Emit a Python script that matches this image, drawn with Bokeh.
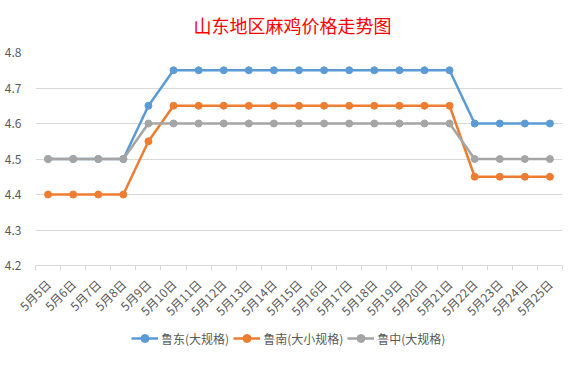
import math
from bokeh.plotting import figure
from bokeh.layouts import column
from bokeh.models import FixedTicker, Legend, LegendItem, Range1d, Label
from bokeh.embed import file_html
from bokeh.resources import INLINE

title_text = "山东地区麻鸡价格走势图"
dates = ["5月5日", "5月6日", "5月7日", "5月8日", "5月9日", "5月10日", "5月11日",
         "5月12日", "5月13日", "5月14日", "5月15日", "5月16日", "5月17日", "5月18日",
         "5月19日", "5月20日", "5月21日", "5月22日", "5月23日", "5月24日", "5月25日"]
ludong = [4.5, 4.5, 4.5, 4.5, 4.65, 4.75, 4.75, 4.75, 4.75, 4.75, 4.75, 4.75,
          4.75, 4.75, 4.75, 4.75, 4.75, 4.6, 4.6, 4.6, 4.6]
lunan = [4.4, 4.4, 4.4, 4.4, 4.55, 4.65, 4.65, 4.65, 4.65, 4.65, 4.65, 4.65,
         4.65, 4.65, 4.65, 4.65, 4.65, 4.45, 4.45, 4.45, 4.45]
luzhong = [4.5, 4.5, 4.5, 4.5, 4.6, 4.6, 4.6, 4.6, 4.6, 4.6, 4.6, 4.6,
           4.6, 4.6, 4.6, 4.6, 4.6, 4.5, 4.5, 4.5, 4.5]
series_names = ["鲁东(大规格)", "鲁南(大小规格)", "鲁中(大规格)"]
y_ticks = [4.2, 4.3, 4.4, 4.5, 4.6, 4.7, 4.8]

FONT = "Noto Sans CJK SC"
x = list(range(len(dates)))
colors = ["#5B9BD5", "#ED7D31", "#A5A5A5"]

# title strip
tf = figure(width=568, height=40, output_backend="svg", toolbar_location=None,
            x_range=Range1d(0, 1), y_range=Range1d(0, 1),
            min_border=0, outline_line_color=None)
tf.axis.visible = False
tf.grid.visible = False
tf.add_layout(Label(x=257, y=16, x_units="screen", y_units="screen", text=title_text,
                    text_align="center", text_baseline="middle", text_color="#FF0000",
                    text_font=FONT, text_font_size="18px", text_font_style="normal"))

p = figure(frame_width=527, frame_height=213, output_backend="svg", toolbar_location=None,
           x_range=Range1d(-0.5, len(dates) - 0.5), y_range=Range1d(4.2, 4.8),
           min_border_left=35, min_border_right=6, min_border_top=12, min_border_bottom=0)

p.outline_line_color = None
p.xgrid.grid_line_color = None
p.ygrid.grid_line_color = "#D9D9D9"
p.ygrid.ticker = FixedTicker(ticks=y_ticks)

p.yaxis.ticker = FixedTicker(ticks=y_ticks)
p.yaxis.major_label_overrides = {t: f"{t:.1f}" for t in y_ticks}
p.yaxis.axis_line_color = None
p.yaxis.major_tick_line_color = None
p.yaxis.minor_tick_line_color = None
p.yaxis.major_label_text_color = "#595959"
p.yaxis.major_label_text_font = FONT
p.yaxis.major_label_text_font_size = "12px"
p.yaxis.major_label_standoff = 8

p.xaxis.ticker = FixedTicker(ticks=x, minor_ticks=[i - 0.5 for i in range(len(dates) + 1)])
p.xaxis.major_label_overrides = {i: d for i, d in enumerate(dates)}
p.xaxis.major_label_orientation = math.pi / 4
p.xaxis.axis_line_color = "#D9D9D9"
p.xaxis.major_tick_line_color = None
p.xaxis.minor_tick_line_color = "#D9D9D9"
p.xaxis.minor_tick_out = 5
p.xaxis.minor_tick_in = 0
p.xaxis.major_label_text_color = "#595959"
p.xaxis.major_label_text_font = FONT
p.xaxis.major_label_text_font_size = "12px"
p.xaxis.major_label_standoff = 10

all_series = [ludong, lunan, luzhong]
for vals, c in zip(all_series, colors):
    p.line(x, vals, line_color=c, line_width=2.5)
    p.scatter(x, vals, marker="circle", size=7, fill_color=c, line_color=c)

# legend strip below the chart (series drawn outside its visible range, only legend shows)
lg = figure(width=568, height=36, output_backend="svg", toolbar_location=None,
            x_range=Range1d(100, 101), y_range=Range1d(100, 101),
            min_border=0, outline_line_color=None)
lg.axis.visible = False
lg.grid.visible = False
items = []
for name, vals, c in zip(series_names, all_series, colors):
    l = lg.line(x, vals, line_color=c, line_width=2.5)
    s = lg.scatter(x, vals, marker="circle", size=7, fill_color=c, line_color=c)
    items.append(LegendItem(label=name, renderers=[l, s]))
legend = Legend(items=items, orientation="horizontal", location=(96, 15),
                label_text_font=FONT, label_text_font_size="12px",
                label_text_color="#595959", glyph_width=27, spacing=4,
                border_line_color=None, background_fill_alpha=0,
                margin=0, padding=2, label_standoff=3)
lg.add_layout(legend, "center")

layout = column(tf, p, lg, spacing=0)
open("out.html", "w").write(file_html(layout, INLINE))
